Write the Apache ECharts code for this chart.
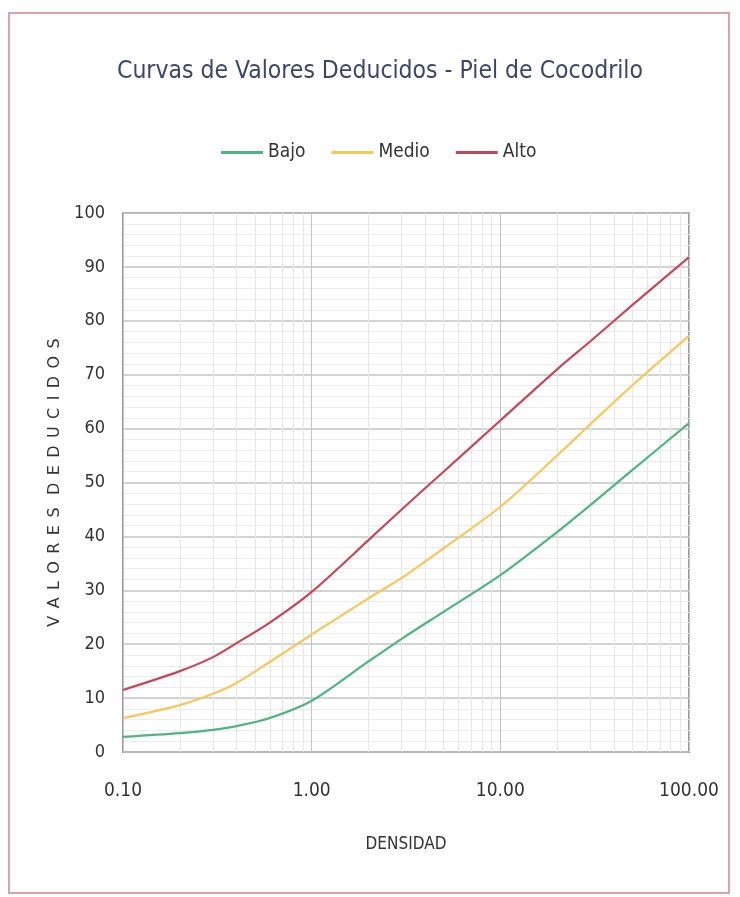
<!DOCTYPE html>
<html>
<head>
<meta charset="utf-8">
<script src="https://cdn.jsdelivr.net/npm/echarts@6/dist/echarts.min.js"></script>
<style>
  html, body { margin: 0; padding: 0; background: #fff; }
  #chart { width: 740px; height: 897px; }
</style>
</head>
<body>
<div id="chart"></div>
<script>
// densidad (x, log scale)
const densidad = [0.1, 0.2, 0.3, 0.4, 0.6, 1, 2, 3, 5, 10, 20, 30, 50, 100];

// valores deducidos
const bajo  = [2.8, 3.5, 4.1, 4.8, 6.3, 9.5, 16.8, 21, 26, 32.8, 40.8, 45.8, 52.3, 61];
const medio = [6.3, 8.7, 10.8, 12.8, 16.7, 21.8, 28.5, 32.3, 37.8, 45.5, 55, 60.8, 68, 77.2];
const alto  = [11.5, 15, 17.6, 20.2, 24, 29.7, 39.3, 45, 52, 61.5, 71, 76.2, 82.9, 91.8];

// lineas menores del eje log
const minorX = [0.2, 0.3, 0.4, 0.5, 0.6, 0.7, 0.8, 0.9,
                2, 3, 4, 5, 6, 7, 8, 9,
                20, 30, 40, 50, 60, 70, 80, 90];

const yName = 'VALORES DEDUCIDOS';

const narrow = '"Liberation Sans Narrow", "DejaVu Sans Condensed", sans-serif';

function pairs(ys) {
  return densidad.map((x, i) => [x, ys[i]]);
}

function makeSeries(name, ys, color, extra) {
  return Object.assign({
    name: name,
    type: 'line',
    data: pairs(ys),
    smooth: 0.3,
    symbol: 'none',
    lineStyle: { color: color, width: 2.2 },
    itemStyle: { color: color },
    z: 5
  }, extra || {});
}

const chart = echarts.init(document.getElementById('chart'), null, { renderer: 'canvas' });

const option = {
  backgroundColor: '#fff',
  animation: false,
  graphic: [{
    type: 'rect',
    shape: { x: 9, y: 13, width: 720, height: 880 },
    style: { fill: 'none', stroke: '#d9a3ae', lineWidth: 2 },
    silent: true
  }],
  title: {
    text: 'Curvas de Valores Deducidos - Piel de Cocodrilo',
    left: 112,
    top: 54,
    textStyle: { fontFamily: narrow, fontSize: 24.5, fontWeight: 'normal', color: '#3b4766' }
  },
  legend: {
    top: 138,
    left: 216,
    icon: 'rect',
    itemWidth: 42,
    itemHeight: 3,
    itemGap: 26,
    textStyle: { fontFamily: narrow, fontSize: 19, color: '#333' },
    data: ['Bajo', 'Medio', 'Alto']
  },
  grid: {
    left: 123,
    right: 51,
    top: 213,
    bottom: 145,
    show: true,
    borderColor: '#9a9a9a',
    borderWidth: 2,
    containLabel: false
  },
  xAxis: {
    type: 'log',
    logBase: 10,
    min: 0.1,
    max: 100,
    name: 'DENSIDAD',
    nameLocation: 'middle',
    nameGap: 84,
    nameTextStyle: { fontFamily: narrow, fontSize: 17, color: '#333' },
    axisLine: { show: false },
    axisTick: { show: false },
    axisLabel: {
      margin: 30,
      fontFamily: narrow,
      fontSize: 19,
      color: '#333',
      formatter: v => v.toFixed(2)
    },
    splitLine: { show: true, lineStyle: { color: '#c4c4c4', width: 1 } }
  },
  yAxis: {
    type: 'value',
    min: 0,
    max: 100,
    interval: 10,
    name: yName.split('').map(c => c === ' ' ? ' ' : '{c|' + c + '}').join(''),
    nameLocation: 'middle',
    nameGap: 58,
    nameRotate: 90,
    nameTextStyle: {
      fontFamily: '"DejaVu Sans", sans-serif',
      fontSize: 16,
      color: '#333',
      rich: {
        c: { fontFamily: '"DejaVu Sans", sans-serif', fontSize: 16, color: '#333', padding: [0, 3.7, 0, 3.7] }
      }
    },
    axisLine: { show: false },
    axisTick: { show: false },
    axisLabel: { margin: 18, fontFamily: narrow, fontSize: 18, color: '#333' },
    splitLine: { show: true, lineStyle: { color: '#c4c4c4', width: 1.5 } },
    minorTick: { show: false, splitNumber: 5 },
    minorSplitLine: { show: true, lineStyle: { color: '#ececec', width: 1 } }
  },
  series: [
    makeSeries('Bajo', bajo, '#4fb482', {
      markLine: {
        silent: true,
        symbol: 'none',
        label: { show: false },
        lineStyle: { color: '#e6e6e6', type: 'solid', width: 1 },
        data: minorX.map(v => ({ xAxis: v })),
        z: 1
      }
    }),
    makeSeries('Medio', medio, '#f5c85e'),
    makeSeries('Alto', alto, '#c4485c')
  ]
};

chart.setOption(option);
</script>
</body>
</html>
